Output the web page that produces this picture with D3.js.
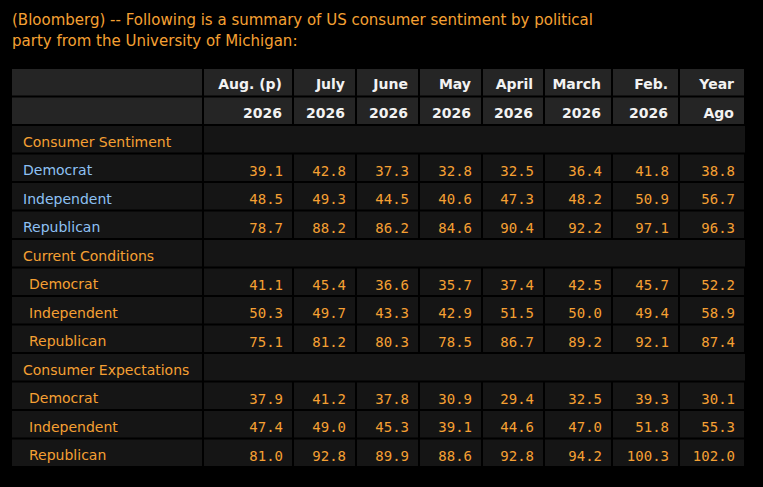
<!DOCTYPE html>
<html lang="en">
<head>
    <meta charset="UTF-8">
    <title>US consumer sentiment by political party</title>
    <style>
        html, body { margin: 0; padding: 0; background: #000; }
        svg { display: block; }
        text { font-family: "DejaVu Sans", Verdana, sans-serif; }
        .num { font-family: "DejaVu Sans Mono", monospace; }
    </style>
</head>
<body>

    <script src="https://d3js.org/d3.v7.min.js"></script>

    <script>
        // Table data
        const titleLines = [
            '(Bloomberg) -- Following is a summary of US consumer sentiment by political',
            'party from the University of Michigan:'
        ];
        const headTop = ['Aug. (p)', 'July', 'June', 'May', 'April', 'March', 'Feb.', 'Year'];
        const headBottom = ['2026', '2026', '2026', '2026', '2026', '2026', '2026', 'Ago'];
        const groups = ['Consumer Sentiment', 'Current Conditions', 'Consumer Expectations'];
        const parties = ['Democrat', 'Independent', 'Republican'];

        const sentiment = [
            [39.1, 42.8, 37.3, 32.8, 32.5, 36.4, 41.8, 38.8],
            [48.5, 49.3, 44.5, 40.6, 47.3, 48.2, 50.9, 56.7],
            [78.7, 88.2, 86.2, 84.6, 90.4, 92.2, 97.1, 96.3]
        ];
        const conditions = [
            [41.1, 45.4, 36.6, 35.7, 37.4, 42.5, 45.7, 52.2],
            [50.3, 49.7, 43.3, 42.9, 51.5, 50.0, 49.4, 58.9],
            [75.1, 81.2, 80.3, 78.5, 86.7, 89.2, 92.1, 87.4]
        ];
        const expectations = [
            [37.9, 41.2, 37.8, 30.9, 29.4, 32.5, 39.3, 30.1],
            [47.4, 49.0, 45.3, 39.1, 44.6, 47.0, 51.8, 55.3],
            [81.0, 92.8, 89.9, 88.6, 92.8, 94.2, 100.3, 102.0]
        ];
        const groupValues = [sentiment, conditions, expectations];

        // layout
        const W = 763, H = 487;
        const tableLeft = 12, tableTop = 69, tableBottom = 468;
        const colWidths = [191, 90, 63, 63, 63, 62, 68, 67, 66];
        const gap = 2;
        const orange = '#f5a033', blue = '#8ec1f3', white = '#f2f2f2';
        const headFill = '#252525', bodyFill = '#151515';

        const edges = [tableLeft, ...Array.from(d3.cumsum(colWidths), d => d + tableLeft)];
        const tableRight = edges[edges.length - 1];

        // rows: two header rows, then per group one title row + party rows
        const rows = [{id: 'h1', type: 'head', cells: headTop},
                      {id: 'h2', type: 'head', cells: headBottom}];
        groups.forEach((g, gi) => {
            rows.push({id: 'g' + gi, type: 'group', label: g});
            parties.forEach((p, pi) => {
                rows.push({id: 'r' + gi + pi, type: 'body', label: p, first: gi === 0,
                           cells: groupValues[gi][pi].map(v => v.toFixed(1))});
            });
        });

        const y = d3.scaleBand()
            .domain(rows.map(r => r.id))
            .range([tableTop, tableBottom]);

        const svg = d3.select('body')
            .append('svg')
            .attr('width', W)
            .attr('height', H);

        svg.append('rect').attr('width', W).attr('height', H).attr('fill', '#000');

        // title
        svg.selectAll('text.title')
            .data(titleLines)
            .enter()
            .append('text')
            .attr('class', 'title')
            .attr('x', 12)
            .attr('y', (d, i) => 25 + i * 21)
            .style('font-size', '15px')
            .style('fill', orange)
            .text(d => d);

        const rowG = svg.selectAll('g.row')
            .data(rows)
            .enter()
            .append('g')
            .attr('class', 'row')
            .attr('transform', d => `translate(0,${y(d.id)})`);

        const bh = y.bandwidth();

        rowG.each(function (r) {
            const g = d3.select(this);
            const fill = r.type === 'head' ? headFill : bodyFill;
            // label cell
            g.append('rect')
                .attr('x', edges[0])
                .attr('y', 0)
                .attr('width', edges[1] - edges[0] - gap / 2)
                .attr('height', bh - gap)
                .attr('fill', fill);

            if (r.type === 'group') {
                g.append('rect')
                    .attr('x', edges[1] + gap / 2)
                    .attr('y', 0)
                    .attr('width', tableRight - edges[1] - gap / 2)
                    .attr('height', bh - gap)
                    .attr('fill', fill);
                g.append('text')
                    .attr('x', 23)
                    .attr('y', 20.5)
                    .style('font-size', '14px')
                    .style('fill', orange)
                    .text(r.label);
                return;
            }

            g.selectAll('rect.cell')
                .data(r.cells)
                .enter()
                .append('rect')
                .attr('class', 'cell')
                .attr('x', (d, i) => edges[i + 1] + gap / 2)
                .attr('y', 0)
                .attr('width', (d, i) => edges[i + 2] - edges[i + 1] - gap)
                .attr('height', bh - gap)
                .attr('fill', fill);

            if (r.type === 'head') {
                g.selectAll('text.cell')
                    .data(r.cells)
                    .enter()
                    .append('text')
                    .attr('class', 'cell')
                    .attr('x', (d, i) => edges[i + 2] - 11)
                    .attr('y', r.id === 'h1' ? 19.5 : 20.5)
                    .attr('text-anchor', 'end')
                    .style('font-size', '14px')
                    .style('font-weight', 'bold')
                    .style('fill', white)
                    .text(d => d);
            } else {
                g.append('text')
                    .attr('x', r.first ? 23 : 29)
                    .attr('y', 20.5)
                    .style('font-size', '14px')
                    .style('fill', r.first ? blue : orange)
                    .text(r.label);
                g.selectAll('text.cell')
                    .data(r.cells)
                    .enter()
                    .append('text')
                    .attr('class', 'cell num')
                    .attr('x', (d, i) => edges[i + 2] - 10)
                    .attr('y', 21)
                    .attr('text-anchor', 'end')
                    .style('font-size', '14px')
                    .style('fill', orange)
                    .text(d => d);
            }
        });
    </script>

</body>
</html>
